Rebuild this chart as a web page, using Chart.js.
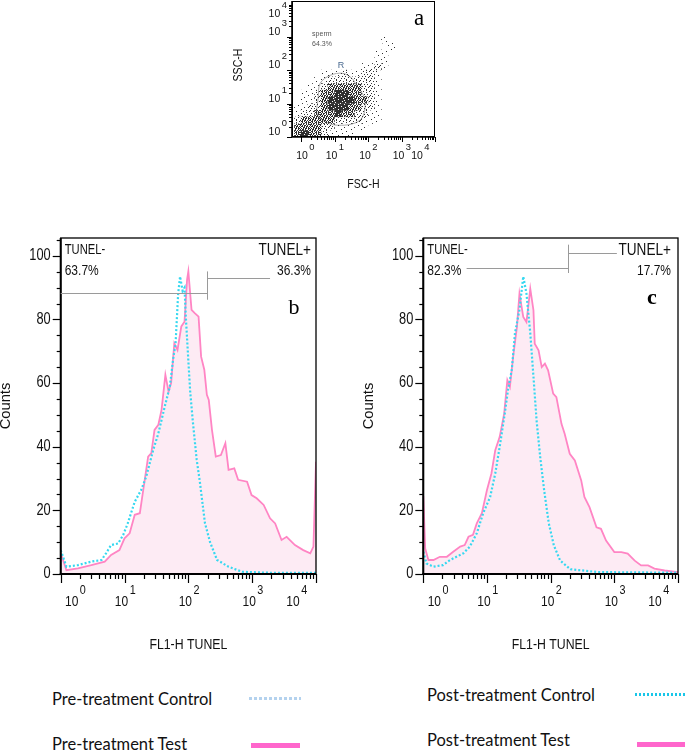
<!DOCTYPE html>
<html>
<head>
<meta charset="utf-8">
<script src="https://cdn.jsdelivr.net/npm/chart.js@4/dist/chart.umd.min.js"></script>
<style>
  body { margin: 0; background: #fff; }
  #page { position: relative; width: 685px; height: 750px; overflow: hidden; }
  canvas { position: absolute; }
  .leg { position: absolute; font-family: Lato, "Open Sans", sans-serif; font-size: 16.5px; color: #111; white-space: nowrap; line-height: 20px; }
  .swatch { position: absolute; }
</style>
</head>
<body>
<div id="page">
  <canvas id="scatterA" width="240" height="200" style="left:220px;top:0"></canvas>
  <canvas id="histB" width="340" height="440" style="left:0;top:225px"></canvas>
  <canvas id="histC" width="335" height="440" style="left:350px;top:225px"></canvas>

  <div class="leg" style="left:52px;top:689px">Pre-treatment Control</div>
  <div class="swatch" style="left:249px;top:697px;width:52px;height:3px;background:repeating-linear-gradient(90deg,#b4d2ee 0 3px,transparent 3px 5px)"></div>
  <div class="leg" style="left:52px;top:734px">Pre-treatment Test</div>
  <div class="swatch" style="left:251px;top:743px;width:49px;height:5px;background:#ff66cc"></div>

  <div class="leg" style="left:427px;top:685px">Post-treatment Control</div>
  <div class="swatch" style="left:635px;top:693px;width:50px;height:3px;background:repeating-linear-gradient(90deg,#19c6e8 0 2px,transparent 2px 4px)"></div>
  <div class="leg" style="left:427px;top:730px">Post-treatment Test</div>
  <div class="swatch" style="left:637px;top:742px;width:48px;height:5px;background:#ff66cc"></div>
</div>

<script>
// ---------- data ----------
// panel a : FSC-H / SSC-H dot plot, density per 0.2-decade cell (0 = empty .. 4 = black)
const cellXs = [-0.1, 0.1, 0.3, 0.5, 0.7, 0.9, 1.1, 1.3, 1.5, 1.7, 1.9, 2.1, 2.3, 2.5, 2.7];
const cellYs = [2.9, 2.7, 2.5, 2.3, 2.1, 1.9, 1.7, 1.5, 1.3, 1.1, 0.9, 0.7, 0.5, 0.3, 0.1];
const cellDensity = [
  [0,0,0,0,0,0,0,0,0,0,0,0,0,1,0],
  [0,0,0,0,0,0,0,0,0,0,0,0,0,0,1],
  [0,0,0,0,0,0,0,0,0,0,0,0,1,1,0],
  [0,0,0,0,0,0,0,0,0,0,0,0,1,1,0],
  [0,0,0,0,0,0,0,0,0,0,1,1,2,1,0],
  [0,0,0,0,1,1,1,2,1,1,2,2,1,0,0],
  [0,0,0,1,1,2,2,2,2,2,2,2,1,0,0],
  [0,0,1,1,2,3,3,3,3,3,2,2,1,0,0],
  [0,1,1,2,3,3,4,4,3,3,2,2,1,0,0],
  [0,1,1,2,3,4,4,4,4,3,3,2,1,0,0],
  [1,1,2,2,3,4,4,4,3,3,2,2,1,0,0],
  [1,2,2,3,3,3,4,3,3,2,2,1,1,0,0],
  [2,3,3,3,3,3,2,2,2,2,1,1,1,0,0],
  [3,3,3,3,2,2,1,1,1,1,1,0,0,0,0],
  [3,4,3,3,2,1,1,1,1,0,0,0,0,0,0]
];
// sperm gate "R"
const gateX = [0.51, 0.57, 0.87, 1.25, 1.52, 1.64, 1.91, 1.76, 1.0, 0.5, 0.51];
const gateY = [1.16, 1.6, 1.84, 1.9, 1.75, 1.57, 1.1, 0.5, 0.36, 0.65, 1.16];

// panel b : pre-treatment, FL1-H in decades, counts
const bTestX = [0.00,0.09,0.27,0.48,0.69,0.79,0.92,1.00,1.08,1.16,1.24,1.37,1.42,1.47,1.53,1.58,1.64,1.69,1.73,1.78,1.83,1.89,1.94,1.98,2.00,2.05,2.10,2.16,2.20,2.25,2.29,2.32,2.37,2.43,2.51,2.58,2.63,2.72,2.78,2.92,2.99,3.07,3.18,3.28,3.36,3.46,3.54,3.67,3.80,3.91,3.96,4.00];
const bTestY = [6.6,1.2,1.8,2.8,3.9,6.0,7.5,11.2,12.8,18.6,19.1,36.9,38.0,45.3,46.9,51.6,62.6,57.3,60.0,72.5,70.4,77.8,79.3,92.5,95.1,83.0,82.0,80.9,68.3,64.2,56.3,54.7,45.3,36.9,37.4,41.1,32.7,33.2,29.6,29.0,24.8,23.8,21.7,17.5,15.9,10.7,11.7,9.1,7.5,6.5,8.6,35.3];
const bCtrlX = [0.00,0.09,0.27,0.48,0.64,0.71,0.79,0.90,0.98,1.05,1.16,1.26,1.34,1.45,1.53,1.63,1.71,1.76,1.80,1.84,1.87,1.91,1.94,1.96,2.00,2.03,2.07,2.13,2.18,2.26,2.34,2.45,2.63,2.84,3.25,4.00];
const bCtrlY = [7.5,2.3,2.8,3.9,4.4,6.5,9.1,9.6,12.3,15.9,22.7,26.4,30.6,39.0,44.2,52.6,58.9,67.3,72.5,88.0,93.5,89.0,90.0,81.0,67.0,57.0,48.0,36.0,29.0,16.0,10.0,4.4,2.3,0.7,0.4,0.4];

// panel c : post-treatment
const cTestX = [0.00,0.03,0.08,0.16,0.26,0.37,0.47,0.58,0.65,0.71,0.78,0.84,0.92,1.00,1.07,1.13,1.20,1.27,1.32,1.36,1.41,1.47,1.51,1.57,1.62,1.68,1.73,1.75,1.81,1.86,1.91,1.96,2.04,2.09,2.17,2.22,2.30,2.38,2.48,2.53,2.61,2.72,2.79,2.87,3.00,3.11,3.21,3.32,3.42,3.53,3.63,3.79,4.00];
const cTestY = [24.5,8.0,4.4,4.4,5.4,5.4,7.0,8.6,9.1,11.7,12.3,15.9,19.1,26.4,31.6,38.9,43.1,50.4,60.9,58.8,68.2,77.6,88.1,80.8,79.2,89.7,82.9,72.4,70.3,65.0,66.1,64.0,56.7,55.6,47.2,44.1,37.8,35.7,29.4,24.2,21.0,14.7,14.2,10.5,6.9,6.9,6.4,4.2,2.7,2.7,1.7,1.1,0.6];
const cCtrlX = [0.00,0.05,0.16,0.31,0.42,0.52,0.63,0.73,0.84,0.94,1.05,1.13,1.20,1.28,1.33,1.39,1.44,1.51,1.57,1.62,1.68,1.73,1.78,1.84,1.90,1.97,2.05,2.15,2.31,2.74,4.00];
const cCtrlY = [7.0,3.3,2.3,2.8,4.4,5.4,6.5,8.6,12.8,19.1,24.2,31.6,40.0,50.5,57.8,64.2,75.7,83.0,93.5,88.2,75.7,62.0,48.0,36.0,26.0,16.0,9.0,4.2,1.5,0.6,0.4];

// TUNEL marker (decades / counts) and percentages
const bGate = { cut: 2.29, negStart: 0, negLevel: 88.3, posLevel: 93.0, posEnd: 3.28, top: 95.1, bottom: 86.2 };
const cGate = { cut: 2.27, negStart: 0.68, negLevel: 96.3, posLevel: 101.0, posEnd: 3.04, top: 103.5, bottom: 94.6 };
const bPercent = ['63.7%', '36.3%'];
const cPercent = ['82.3%', '17.7%'];

const decadeTicks = [0, 1, 2, 3, 4];
const logMinors = [2, 3, 4, 5, 6, 7, 8, 9];
const countTicks = [0, 20, 40, 60, 80, 100];

// ---------- helpers ----------
const SANS = '"Liberation Sans", Arial, sans-serif';
const SERIF = '"Liberation Serif", "Times New Roman", serif';

function pts(xs, ys) { return xs.map((x, i) => ({ x: x, y: ys[i] })); }

function txt(ctx, s, x, y, size, align, sx, font, rot, weight) {
  ctx.save();
  ctx.font = (weight ? weight + ' ' : '') + size + 'px ' + (font || SANS);
  ctx.textBaseline = 'middle';
  ctx.textAlign = align || 'left';
  ctx.translate(x, y);
  if (rot) ctx.rotate(rot);
  ctx.scale(sx || 1, 1);
  ctx.fillText(s, 0, 0);
  ctx.restore();
}

function widthOf(ctx, s, size, sx) {
  ctx.save();
  ctx.font = size + 'px ' + SANS;
  const w = ctx.measureText(s).width * sx;
  ctx.restore();
  return w;
}

// "10" with a raised exponent; cx is the centre of "10"
function pow10(ctx, k, cx, cy, size, sx) {
  const w1 = widthOf(ctx, '10', size, sx);
  txt(ctx, '10', cx, cy, size, 'center', sx);
  txt(ctx, String(k), cx + w1 / 2 + 1.5, cy - size * 0.8, size * 0.9, 'left', sx);
}

function seg(ctx, x1, y1, x2, y2) {
  ctx.beginPath(); ctx.moveTo(x1, y1); ctx.lineTo(x2, y2); ctx.stroke();
}

// dot textures for the density cells
function makePattern(rows) {
  const n = rows.length;
  const t = document.createElement('canvas');
  t.width = n; t.height = n;
  const g = t.getContext('2d');
  g.fillStyle = '#2e2e2e';
  rows.forEach((r, j) => {
    for (let i = 0; i < n; i++) if (r[i] === '#') g.fillRect(i, j, 1, 1);
  });
  return g.createPattern(t, 'repeat');
}

const patterns = [
  'rgba(0,0,0,0)',
  makePattern(['..........', '......#...', '..........', '..#.......', '..........',
               '........#.', '..........', '....#.....', '..........', '.#........']),
  makePattern(['#.....#...', '...#.....#', '......#...', '.#........', '....#..#..',
               '#.........', '..#..#...#', '........#.', '.#..#.....', '......#...']),
  makePattern(['#.#.##.#.#', '.##.#.#.#.', '#.#..##.##', '.#.##.#.#.', '##.#..#.##',
               '#.#.##.#..', '.##.#.##.#', '#..##.#.#.', '.#.#.##.##', '#.##.#..#.']),
  makePattern(['####.#####', '##.#######', '#####.####', '.#########', '####.###.#',
               '##########', '#.######.#', '#####.####', '###.######', '########.#'])
];

// ---------- panel a ----------
const cells = [];
cellYs.forEach((cy, j) => cellXs.forEach((cx, i) => {
  const v = cellDensity[j][i];
  if (v > 0) cells.push({ x: cx, y: cy, v: v });
}));

const dotFrame = {
  id: 'dotFrame',
  afterDraw(chart) {
    const { ctx, chartArea: a, scales: { x, y } } = chart;
    ctx.save();
    ctx.strokeStyle = '#000';
    ctx.fillStyle = '#111';
    ctx.lineWidth = 1;
    ctx.strokeRect(a.left + 0.5, a.top + 0.5, a.right - a.left - 1, a.bottom - a.top - 1);
    ctx.lineWidth = 1.6;
    seg(ctx, a.left, a.top, a.left, a.bottom);
    seg(ctx, a.left, a.bottom, a.right, a.bottom);

    ctx.lineWidth = 1;
    decadeTicks.forEach(k => {
      const px = Math.round(x.getPixelForValue(k)) + 0.5;
      const py = Math.round(y.getPixelForValue(k)) + 0.5;
      seg(ctx, px, a.bottom, px, a.bottom + 5);
      if (k < 4) seg(ctx, a.left - 5, py, a.left, py);
      if (k < 4) logMinors.forEach(m => {
        const qx = Math.round(x.getPixelForValue(k + Math.log10(m))) + 0.5;
        const qy = Math.round(y.getPixelForValue(k + Math.log10(m))) + 0.5;
        seg(ctx, qx, a.bottom, qx, a.bottom + 3);
        seg(ctx, a.left - 3, qy, a.left, qy);
      });
      const lx = Math.min(Math.max(x.getPixelForValue(k) - 3, a.left + 10), a.right - 18);
      pow10(ctx, k, lx, a.bottom + 19, 11, 0.95);
      const ly = Math.max(y.getPixelForValue(k + 0.14), a.top + 13);
      const w1 = widthOf(ctx, '10', 11, 0.95), w2 = widthOf(ctx, String(k), 10, 0.95);
      pow10(ctx, k, a.left - 5 - w2 - 1.5 - w1 / 2, ly, 11, 0.95);
    });

    txt(ctx, 'SSC-H', a.left - 53, a.top + 64, 12, 'center', 0.88, null, -Math.PI / 2);
    txt(ctx, 'FSC-H', (a.left + a.right) / 2, a.bottom + 48, 12, 'center', 0.88);

    ctx.fillStyle = '#555';
    txt(ctx, 'sperm', x.getPixelForValue(0.33), y.getPixelForValue(3.08), 7, 'left', 1);
    txt(ctx, '64.3%', x.getPixelForValue(0.33), y.getPixelForValue(2.76), 7, 'left', 1);
    ctx.fillStyle = '#4a6a90';
    txt(ctx, 'R', x.getPixelForValue(1.19), y.getPixelForValue(2.13), 9, 'center', 1);

    ctx.fillStyle = '#000';
    txt(ctx, 'a', a.right - 16, a.top + 18, 23, 'center', 1, SERIF);
    ctx.restore();
  }
};

function cellRadius(c) {
  const s = c.chart.scales.x;
  if (!s) return 4.8;
  return (s.getPixelForValue(0.2) - s.getPixelForValue(0) + 0.4) / Math.SQRT2;
}

new Chart(document.getElementById('scatterA'), {
  type: 'scatter',
  data: {
    datasets: [
      {
        data: cells,
        pointStyle: 'rect',
        pointRadius: cellRadius,
        pointBorderWidth: 0,
        pointBackgroundColor: c => patterns[c.raw ? c.raw.v : 0],
        order: 1
      },
      {
        data: pts(gateX, gateY),
        showLine: true,
        borderColor: '#a8a8a8',
        borderWidth: 1,
        tension: 0.35,
        pointRadius: 0,
        order: 2
      }
    ]
  },
  options: {
    responsive: false,
    animation: false,
    events: [],
    layout: { padding: { left: 72, top: 1, right: 25, bottom: 63 } },
    scales: {
      x: { type: 'linear', display: false, min: -0.27, max: 4.0 },
      y: { type: 'linear', display: false, min: 0, max: 4.06 }
    },
    plugins: { legend: { display: false }, tooltip: { enabled: false } }
  },
  plugins: [dotFrame]
});

// ---------- panels b and c ----------
const histFrame = {
  id: 'histFrame',
  afterDraw(chart, args, o) {
    const { ctx, chartArea: a, scales: { x, y } } = chart;
    ctx.save();
    ctx.strokeStyle = '#000';
    ctx.fillStyle = '#111';
    ctx.lineWidth = 1.3;
    ctx.strokeRect(a.left, a.top, a.right - a.left, a.bottom - a.top);
    ctx.lineWidth = 2;
    seg(ctx, a.left, a.top, a.left, a.bottom + 1);
    seg(ctx, a.left - 1, a.bottom, a.right, a.bottom);

    // count axis
    ctx.lineWidth = 1.2;
    for (let v = 0; v <= 105; v += 5) {
      const py = Math.round(y.getPixelForValue(v)) + 0.5;
      seg(ctx, a.left - (v % 20 === 0 ? 8 : 4), py, a.left, py);
    }
    countTicks.forEach(v => {
      txt(ctx, String(v), a.left - 10, y.getPixelForValue(v), 16, 'right', 0.8);
    });

    // FL1 axis
    decadeTicks.forEach(k => {
      const px = Math.round(x.getPixelForValue(k)) + 0.5;
      seg(ctx, px, a.bottom, px, a.bottom + 9);
      if (k < 4) logMinors.forEach(m => {
        const q = Math.round(x.getPixelForValue(k + Math.log10(m))) + 0.5;
        seg(ctx, q, a.bottom, q, a.bottom + 5);
      });
      const lx = Math.min(Math.max(x.getPixelForValue(k) - 3, a.left + 11), a.right - 23);
      pow10(ctx, k, lx, a.bottom + 28, 15, 0.8);
    });

    txt(ctx, 'Counts', a.left - 55, (a.top + a.bottom) / 2, 15.5, 'center', 0.95, null, -Math.PI / 2);
    txt(ctx, 'FL1-H TUNEL', (a.left + a.right) / 2, a.bottom + 71, 15, 'center', 0.82);

    // TUNEL marker
    const g = o.gate;
    ctx.strokeStyle = '#9a9a9a';
    ctx.lineWidth = 1;
    const cx = Math.round(x.getPixelForValue(g.cut)) + 0.5;
    const ny = Math.round(y.getPixelForValue(g.negLevel)) + 0.5;
    const py = Math.round(y.getPixelForValue(g.posLevel)) + 0.5;
    seg(ctx, x.getPixelForValue(g.negStart), ny, cx, ny);
    seg(ctx, cx, py, x.getPixelForValue(g.posEnd), py);
    seg(ctx, cx, y.getPixelForValue(g.top), cx, y.getPixelForValue(g.bottom));

    ctx.fillStyle = '#111';
    txt(ctx, 'TUNEL-', a.left + 4, a.top + 12, 14, 'left', 0.8);
    txt(ctx, o.pct[0], a.left + 4, a.top + 33, 15, 'left', 0.8);
    txt(ctx, 'TUNEL+', a.right - o.rightInset, a.top + 12, 17, 'right', 0.8);
    txt(ctx, o.pct[1], a.right - o.rightInset, a.top + 33, 15, 'right', 0.8);

    ctx.fillStyle = '#000';
    txt(ctx, o.letter, a.right - o.letterPos[0], a.top + o.letterPos[1], o.letterSize, 'center', 1,
        SERIF, 0, o.letterWeight);
    ctx.restore();
  }
};

function histChart(id, tx, ty, cxs, cys, pad, extra) {
  return new Chart(document.getElementById(id), {
    type: 'scatter',
    data: {
      datasets: [
        {
          label: 'Control',
          data: pts(cxs, cys),
          showLine: true,
          borderColor: '#36d8f0',
          borderWidth: 2.2,
          borderDash: [2, 2],
          pointRadius: 0,
          fill: false,
          order: 0
        },
        {
          label: 'Test',
          data: pts(tx, ty),
          showLine: true,
          borderColor: '#ff85c4',
          borderWidth: 1.8,
          backgroundColor: 'rgba(252, 218, 235, 0.55)',
          fill: 'origin',
          pointRadius: 0,
          order: 1
        }
      ]
    },
    options: {
      responsive: false,
      animation: false,
      events: [],
      layout: { padding: pad },
      scales: {
        x: { type: 'linear', display: false, min: 0, max: 4 },
        y: { type: 'linear', display: false, min: 0, max: 105.6 }
      },
      plugins: { legend: { display: false }, tooltip: { enabled: false }, histFrame: extra }
    },
    plugins: [histFrame]
  });
}

histChart('histB', bTestX, bTestY, bCtrlX, bCtrlY,
  { left: 60.7, top: 13, right: 24, bottom: 91 },
  { gate: bGate, pct: bPercent, rightInset: 5, letter: 'b', letterPos: [22, 70], letterSize: 22, letterWeight: '' });

histChart('histC', cTestX, cTestY, cCtrlX, cCtrlY,
  { left: 73.3, top: 13, right: 7, bottom: 91 },
  { gate: cGate, pct: cPercent, rightInset: 7, letter: 'c', letterPos: [26, 60], letterSize: 22, letterWeight: 'bold' });
</script>
</body>
</html>
